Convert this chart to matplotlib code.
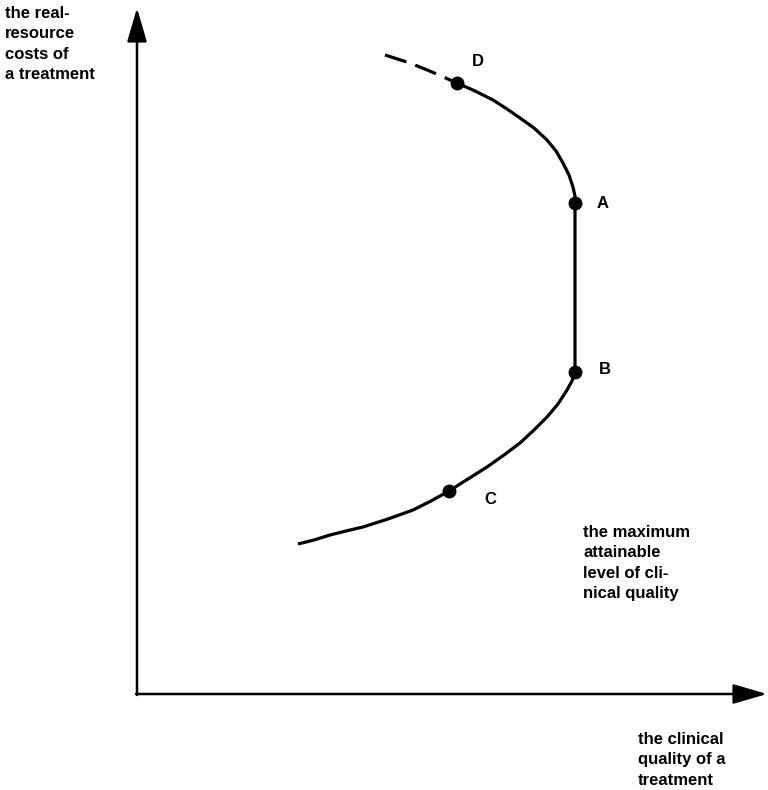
import matplotlib.pyplot as plt

# frontier (quality to the right, cost upwards)
frontier_quality = [320, 338, 356, 370, 383, 397, 410, 419, 426, 432, 436, 438, 438,
                    438, 435, 430, 421, 410, 397, 383, 367, 350, 331, 312,
                    294, 276, 251, 226, 209, 193, 177, 161]
frontier_cost = [611, 603, 594, 585, 576, 566, 554, 543, 531, 519, 507, 498, 491,
                 322, 313, 304, 290, 277, 264, 251, 239, 227, 215, 203,
                 193, 184, 175, 167, 163, 159, 154, 150]

# dashed extension beyond D
ext_quality = [248, 273, 295, 320]
ext_cost = [639, 631, 622, 611]

point_names = ['D', 'A', 'B', 'C']
point_quality = [320, 438, 438, 312]
point_cost = [611, 491, 322, 203]
label_offsets = [(21, 21), (28, 0), (30, 2), (41, -9)]

y_label = 'the real-\nresource\ncosts of\na treatment'
x_label = 'the clinical\nquality of a\ntreatment'
max_label = 'the maximum\nattainable\nlevel of cli-\nnical quality'

plt.rcParams['font.family'] = ['Liberation Sans', 'DejaVu Sans']

fig = plt.figure(figsize=(7.68, 7.90), dpi=100)
ax = fig.add_axes([0, 0, 1, 1])
ax.set_xlim(-137, 631)
ax.set_ylim(-96, 694)
ax.axis('off')

# axes with arrow heads
arrow = dict(arrowstyle='-|>,head_length=1.3,head_width=0.38', lw=1.8, color='black',
             mutation_scale=16, shrinkA=0, shrinkB=0)
ax.annotate('', xy=(0, 686), xytext=(0, -1), arrowprops=arrow)
ax.annotate('', xy=(630, 0), xytext=(-1, 0), arrowprops=arrow)

ax.plot(frontier_quality, frontier_cost, color='black', lw=2.3,
        solid_capstyle='butt', solid_joinstyle='round')
ax.plot(ext_quality, ext_cost, color='black', lw=2.3, linestyle=(0, (7, 3)), dash_capstyle='butt')
ax.plot(point_quality, point_cost, 'o', color='black', markersize=9)

for name, q, c, (dx, dy) in zip(point_names, point_quality, point_cost, label_offsets):
    ax.text(q + dx, c + dy, name, fontsize=12, fontweight='bold', ha='center', va='center')

ax.text(-132, 688, y_label, fontsize=12, fontweight='bold', ha='left', va='top', linespacing=1.45)
ax.text(446, 169, max_label, fontsize=12, fontweight='bold', ha='left', va='top', linespacing=1.45)
ax.text(501, -38, x_label, fontsize=12, fontweight='bold', ha='left', va='top', linespacing=1.45)

fig.savefig('out.png', dpi=100)
